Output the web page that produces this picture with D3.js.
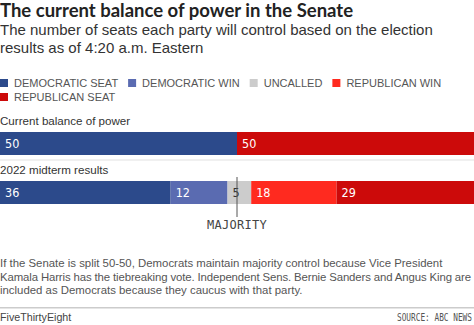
<!DOCTYPE html>
<html><head><meta charset="utf-8">
<script src="https://cdn.jsdelivr.net/npm/d3@7"></script>
<style>
html,body{margin:0;padding:0;background:#fff;overflow:hidden}
svg{display:block}
</style></head>
<body>
<script>
const categories = ["Current balance of power", "2022 midterm results"];
const seriesKeys = ["DEMOCRATIC SEAT", "DEMOCRATIC WIN", "UNCALLED", "REPUBLICAN WIN", "REPUBLICAN SEAT"];
const demSeat = [50, 36];
const demWin = [0, 12];
const uncalled = [0, 5];
const repWin = [0, 18];
const repSeat = [50, 29];
const totalSeats = 100;
const majorityMark = 50;
const colors = ["#2c4a8b", "#5a6bb1", "#cccccc", "#ff2a1f", "#cc0a0a"];

const W = 474, H = 325;
const svg = d3.select("body").append("svg").attr("width", W).attr("height", H);

const sans = "'Liberation Sans', Arial, sans-serif";
const mono = "'DejaVu Sans Mono', 'Liberation Mono', monospace";

// Title & subtitle
svg.append("text").attr("x", 0).attr("y", 17)
  .style("font-family", "Lato, sans-serif").style("font-weight", 700).style("font-size", "18.5px").attr("fill", "#222")
  .text("The current balance of power in the Senate");
[["The number of seats each party will control based on the election", 35],
 ["results as of 4:20 a.m. Eastern", 53]].forEach(([t, y]) => {
  svg.append("text").attr("x", 0).attr("y", y)
    .style("font-family", sans).style("font-size", "15px").attr("fill", "#333").text(t);
});

// Legend
const colorScale = d3.scaleOrdinal().domain(seriesKeys).range(colors);
const legend = svg.append("g");
let lx = 0, ly = 87;
seriesKeys.forEach(k => {
  const g = legend.append("g");
  const t = g.append("text").attr("x", 14).attr("y", 0)
    .style("font-family", sans).style("font-size", "11px").attr("fill", "#555").text(k);
  const w = 14 + t.node().getComputedTextLength();
  if (lx + w > W) { lx = 0; ly += 14; }
  g.attr("transform", `translate(${lx},${ly})`);
  g.insert("rect", "text").attr("x", 0).attr("y", -8).attr("width", 8).attr("height", 8).attr("fill", colorScale(k));
  lx += w + 10;
});

// Scales
const x = d3.scaleLinear().domain([0, totalSeats]).range([0, W]);
const y = d3.scaleBand().domain(categories).range([132, 204]).paddingInner(26 / 49);

const rows = categories.map((c, i) => ({
  category: c,
  "DEMOCRATIC SEAT": demSeat[i], "DEMOCRATIC WIN": demWin[i], "UNCALLED": uncalled[i],
  "REPUBLICAN WIN": repWin[i], "REPUBLICAN SEAT": repSeat[i]
}));
const stacked = d3.stack().keys(seriesKeys)(rows);

// Row labels
svg.selectAll("text.rowlabel").data(categories).join("text").attr("class", "rowlabel")
  .attr("x", 0).attr("y", d => y(d) - 7)
  .style("font-family", sans).style("font-size", "11.6px").attr("fill", "#333").text(d => d);

// faint separator under first bar
svg.append("rect").attr("x", 0).attr("width", W).attr("y", y(categories[0]) + y.bandwidth() + 4).attr("height", 2).attr("fill", "#f0f0f0");

// Bars
const layers = svg.selectAll("g.layer").data(stacked).join("g").attr("class", "layer")
  .attr("fill", d => colorScale(d.key));
layers.selectAll("rect").data(d => d.filter(s => s[1] - s[0] > 0).map(s => ({ s, key: d.key })))
  .join("rect")
  .attr("x", d => x(d.s[0])).attr("width", d => x(d.s[1]) - x(d.s[0]))
  .attr("y", d => y(d.s.data.category)).attr("height", y.bandwidth());
layers.selectAll("text").data(d => d.filter(s => s[1] - s[0] > 0).map(s => ({ s, key: d.key })))
  .join("text")
  .attr("x", d => x(d.s[0]) + 5).attr("y", d => y(d.s.data.category) + 15.5)
  .style("font-family", "'DejaVu Sans Condensed', 'Liberation Sans Narrow', " + sans)
  .style("font-stretch", "condensed")
  .style("font-size", "12.5px")
  .attr("fill", d => d.key === "UNCALLED" ? "#333" : "#fff")
  .text(d => d.s[1] - d.s[0]);

// Majority line
const r2 = categories[1];
svg.append("line").attr("x1", x(majorityMark)).attr("x2", x(majorityMark))
  .attr("y1", y(r2) - 4).attr("y2", y(r2) + y.bandwidth() + 13)
  .attr("stroke", "#555").attr("stroke-width", 1);
svg.append("text").attr("x", x(majorityMark)).attr("y", 229).attr("text-anchor", "middle")
  .style("font-family", mono).style("font-size", "12px").style("letter-spacing", "0.3px").attr("fill", "#444")
  .text("MAJORITY");

// Footnote
["If the Senate is split 50-50, Democrats maintain majority control because Vice President",
 "Kamala Harris has the tiebreaking vote. Independent Sens. Bernie Sanders and Angus King are",
 "included as Democrats because they caucus with that party."].forEach((t, i) => {
  const el = svg.append("text").attr("x", 0).attr("y", 267 + i * 13.5)
    .style("font-family", sans).style("font-size", "11.4px").attr("fill", "#555").text(t);
  const len = el.node().getComputedTextLength();
  if (len > W - 3) {
    el.style("letter-spacing", (-(len - (W - 3)) / t.length).toFixed(3) + "px");
  }
});

// Footer
svg.append("rect").attr("x", 0).attr("width", W).attr("y", 307).attr("height", 1.5).attr("fill", "#ccc");
svg.append("text").attr("x", 0).attr("y", 321)
  .style("font-family", sans).style("font-size", "10.7px").attr("fill", "#444").text("FiveThirtyEight");
svg.append("text").attr("transform", `translate(${W - 2},321) scale(0.78,1)`).attr("text-anchor", "end")
  .style("font-family", mono).style("font-size", "10px").attr("fill", "#555")
  .text("SOURCE: ABC NEWS");
</script>
</body></html>
